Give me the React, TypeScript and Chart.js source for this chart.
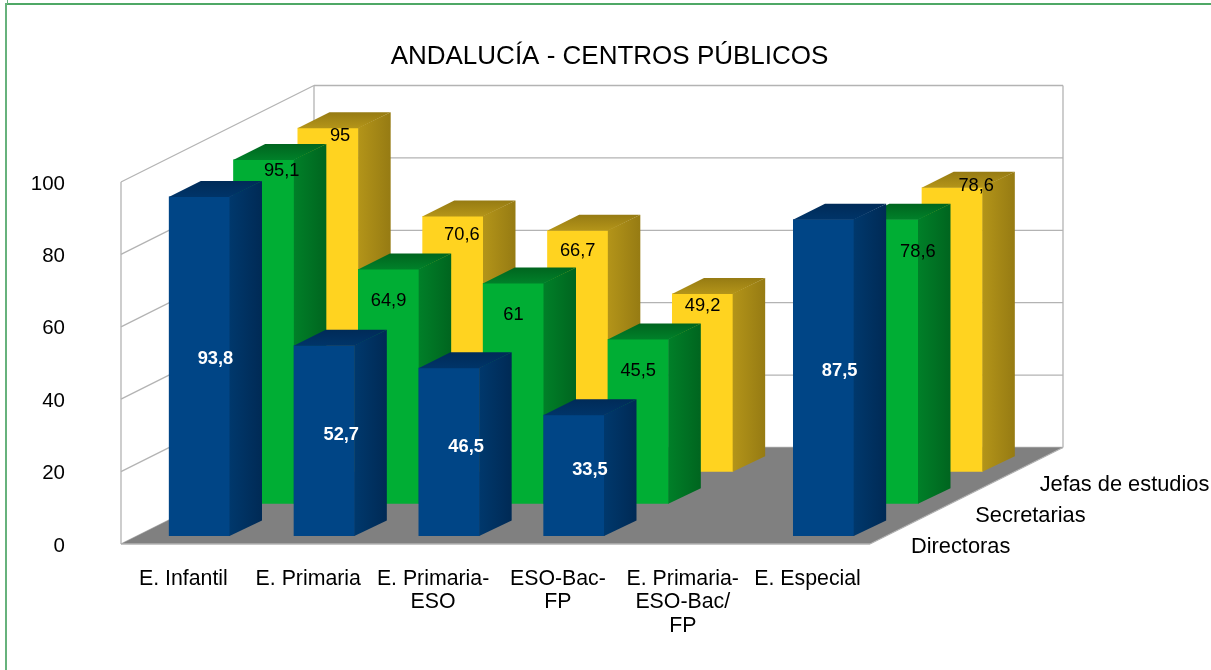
import React, { useEffect, useRef } from "react";
import { Chart, registerables } from "chart.js";

Chart.register(...registerables);

const categories: (string | string[])[] = [
  "E. Infantil",
  "E. Primaria",
  ["E. Primaria-", "ESO"],
  ["ESO-Bac-", "FP"],
  ["E. Primaria-", "ESO-Bac/", "FP"],
  "E. Especial",
];
const directoras = [93.8, 52.7, 46.5, 33.5, null, 87.5];
const secretarias = [95.1, 64.9, 61, 45.5, null, 78.6];
const jefas = [95, 70.6, 66.7, 49.2, null, 78.6];
const yTicks = { min: 0, max: 100, step: 20 };

const FONT = '"Liberation Sans", Arial, sans-serif';
const STEP_X = 64.33;
const STEP_Y = -32.17;
const BAR_DX = 32;
const BAR_DY = -15.5;
const INSET_X = 16;
const INSET_Y = -8;
const GRID = "#b3b3b3";

const styles = [
  { front: "#004586", sideA: "#00386c", sideB: "#002a55", topA: "#002b58", topB: "#003468", text: "#ffffff", bold: true },
  { front: "#00ae34", sideA: "#007f28", sideB: "#00651f", topA: "#00651f", topB: "#008029", text: "#000000", bold: false },
  { front: "#ffd320", sideA: "#b39419", sideB: "#967b13", topA: "#967b13", topB: "#b39419", text: "#000000", bold: false },
];

// label placement relative to the top centre of the front face
const labelNudges: ([number, number] | null)[][] = [
  [[16, 163], [17, 90], [17, 79], [16, 55], null, [16, 152]],
  [[18, 11], [0, 32], [0, 32], [0, 32], null, [30, 33]],
  [[12, 8], [9, 19], [0, 21], [0, 12], null, [24, -1]],
];

const shift = (i: number) => [INSET_X + i * STEP_X, INSET_Y + i * STEP_Y];

const poly = (ctx: CanvasRenderingContext2D, pts: number[][], fill: any) => {
  ctx.beginPath();
  pts.forEach((p, i) => (i ? ctx.lineTo(p[0], p[1]) : ctx.moveTo(p[0], p[1])));
  ctx.closePath();
  ctx.fillStyle = fill;
  ctx.fill();
};

const bars3d = {
  id: "bars3d",
  beforeDatasetsDraw(chart: any) {
    const { ctx, chartArea: a, scales } = chart;
    const dx = STEP_X * 3;
    const dy = STEP_Y * 3;
    ctx.save();
    ctx.strokeStyle = GRID;
    ctx.lineWidth = 1.3;
    const line = (x1: number, y1: number, x2: number, y2: number) => {
      ctx.beginPath();
      ctx.moveTo(x1, y1);
      ctx.lineTo(x2, y2);
      ctx.stroke();
    };
    scales.y.ticks.forEach((t: any) => {
      const y = scales.y.getPixelForValue(t.value);
      line(a.left, y, a.left + dx, y + dy);
      line(a.left + dx, y + dy, a.right + dx, y + dy);
    });
    line(a.left, a.top, a.left, a.bottom);
    line(a.left + dx, a.top + dy, a.left + dx, a.bottom + dy);
    line(a.right + dx, a.top + dy, a.right + dx, a.bottom + dy);
    poly(
      ctx,
      [
        [a.left, a.bottom],
        [a.right, a.bottom],
        [a.right + dx, a.bottom + dy],
        [a.left + dx, a.bottom + dy],
      ],
      "#808080"
    );
    line(a.left, a.bottom, a.right, a.bottom);
    line(a.right, a.bottom, a.right + dx, a.bottom + dy);
    ctx.restore();
  },
  beforeDatasetDraw(chart: any, args: any) {
    const [sx, sy] = shift(args.index);
    chart.ctx.save();
    chart.ctx.translate(sx, sy);
  },
  afterDatasetDraw(chart: any, args: any) {
    const { ctx } = chart;
    const s = styles[args.index];
    const data = chart.data.datasets[args.index].data;
    chart.getDatasetMeta(args.index).data.forEach((el: any, i: number) => {
      if (data[i] == null) return;
      const x2 = el.x + el.width / 2;
      const x1 = el.x - el.width / 2;
      const top = el.y;
      const bot = el.base;
      const sg = ctx.createLinearGradient(x2, 0, x2 + BAR_DX, 0);
      sg.addColorStop(0, s.sideA);
      sg.addColorStop(1, s.sideB);
      poly(ctx, [[x2 - 0.5, top], [x2 + BAR_DX, top + BAR_DY], [x2 + BAR_DX, bot + BAR_DY], [x2 - 0.5, bot]], sg);
      const tg = ctx.createLinearGradient(0, top + BAR_DY, 0, top);
      tg.addColorStop(0, s.topA);
      tg.addColorStop(1, s.topB);
      poly(ctx, [[x1, top + 0.5], [x1 + BAR_DX, top + BAR_DY], [x2 + BAR_DX, top + BAR_DY], [x2 - 0.5, top + 0.5]], tg);
    });
    ctx.restore();
  },
  afterDatasetsDraw(chart: any) {
    const { ctx, chartArea: a } = chart;
    ctx.save();
    ctx.textAlign = "center";
    ctx.textBaseline = "middle";
    chart.data.datasets.forEach((ds: any, d: number) => {
      const [sx, sy] = shift(d);
      const s = styles[d];
      ctx.fillStyle = s.text;
      ctx.font = `${s.bold ? "bold " : ""}18.3px ${FONT}`;
      chart.getDatasetMeta(d).data.forEach((el: any, i: number) => {
        const n = labelNudges[d][i];
        if (ds.data[i] == null || !n) return;
        ctx.fillText(String(ds.data[i]).replace(".", ","), el.x + sx + n[0], el.y + sy + n[1]);
      });
    });
    // depth axis labels
    ctx.textAlign = "left";
    ctx.fillStyle = "#000000";
    ctx.font = `21.8px ${FONT}`;
    chart.data.datasets.forEach((ds: any, d: number) => {
      ctx.fillText(ds.label, a.right + 41 + d * STEP_X, a.bottom + 3 + d * (STEP_Y + 1));
    });
    ctx.restore();
  },
};

export default function App() {
  const ref = useRef<HTMLCanvasElement>(null);
  useEffect(() => {
    const ds = (label: string, data: (number | null)[], color: string) => ({
      label,
      data,
      backgroundColor: color,
      borderWidth: 0,
      grouped: false,
      clip: false,
      barPercentage: 0.49,
      categoryPercentage: 1,
    });
    const chart = new Chart(ref.current as HTMLCanvasElement, {
      type: "bar",
      data: {
        labels: categories,
        datasets: [
          ds("Directoras", directoras, styles[0].front),
          ds("Secretarias", secretarias, styles[1].front),
          ds("Jefas de estudios", jefas, styles[2].front),
        ],
      } as any,
      plugins: [bars3d as any],
      options: {
        animation: false,
        responsive: false,
        devicePixelRatio: 1,
        layout: { padding: { left: 8, right: 0, top: 0, bottom: 0 } },
        plugins: {
          legend: { display: false },
          tooltip: { enabled: false },
          title: {
            display: true,
            text: "ANDALUCÍA - CENTROS PÚBLICOS",
            color: "#000000",
            font: { family: FONT, size: 26, weight: "normal", lineHeight: 1.2 },
            padding: { top: 41, bottom: 109.8 },
          },
        },
        scales: {
          x: {
            grid: { display: false, drawTicks: false },
            border: { display: false },
            afterFit: (s: any) => {
              s.height = 126;
            },
            ticks: {
              color: "#000000",
              font: { family: FONT, size: 21.3, lineHeight: 1.11 },
              padding: 23,
              autoSkip: false,
              maxRotation: 0,
              minRotation: 0,
            },
          },
          y: {
            min: yTicks.min,
            max: yTicks.max,
            grid: { display: false, drawTicks: false },
            border: { display: false },
            afterFit: (s: any) => {
              s.width = 113;
            },
            ticks: {
              stepSize: yTicks.step,
              color: "#000000",
              font: { family: FONT, size: 20.5 },
              padding: 56,
              labelOffset: 2,
            },
          },
          depth: {
            axis: "y",
            type: "linear",
            position: "right",
            grid: { display: false, drawTicks: false },
            border: { display: false },
            ticks: { display: false },
            afterFit: (s: any) => {
              s.width = 341;
            },
          },
        },
      } as any,
    });
    return () => chart.destroy();
  }, []);
  return (
    <div style={{ position: "fixed", left: 0, top: 0, width: 1211, height: 670, background: "#fff" }}>
      <canvas ref={ref} width={1211} height={670} style={{ display: "block" }} />
      <div style={{ position: "absolute", left: 5, top: 3, right: 0, height: 1.5, background: "#4fa866" }} />
      <div style={{ position: "absolute", left: 5, top: 3, bottom: 0, width: 2, background: "#67b27c" }} />
      <div style={{ position: "absolute", left: 7, top: 0, height: 4, width: 1, background: "#67b27c" }} />
    </div>
  );
}
